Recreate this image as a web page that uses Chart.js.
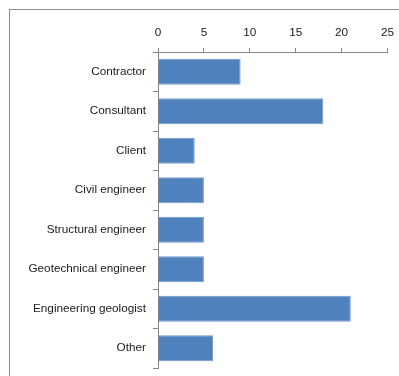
<!DOCTYPE html>
<html>
<head>
<meta charset="utf-8">
<script src="https://cdn.jsdelivr.net/npm/chart.js@4/dist/chart.umd.min.js"></script>
<style>
  html, body { margin: 0; padding: 0; background: #fff; }
  #wrap { position: relative; width: 399px; height: 376px; overflow: hidden; }
  #frame { position: absolute; left: 9px; top: 9px; width: 420px; height: 400px;
           border-top: 1px solid #8c8c8c; border-left: 1px solid #8c8c8c; box-sizing: border-box; }
  canvas { position: absolute; left: 0; top: 0; }
</style>
</head>
<body>
<div id="wrap">
  <div id="frame"></div>
  <canvas id="c" width="399" height="376"></canvas>
</div>
<script>
// Respondent roles and their counts
const categories = ["Contractor", "Consultant", "Client", "Civil engineer", "Structural engineer",
                    "Geotechnical engineer", "Engineering geologist", "Other"];
const counts = [9, 18, 4, 5, 5, 5, 21, 6];
const tickValues = [0, 5, 10, 15, 20, 25];

const axisGrey = "#868686";
const textColor = "#1a1a1a";
const font = { family: "'Liberation Sans', Arial, sans-serif", size: 11.75 };

new Chart(document.getElementById("c"), {
  type: "bar",
  data: {
    labels: categories,
    datasets: [{
      data: counts,
      backgroundColor: "#4f81bd",
      borderColor: "#7399c9",
      borderWidth: 1,
      categoryPercentage: 1,
      barPercentage: 0.66
    }]
  },
  options: {
    indexAxis: "y",
    responsive: false,
    animation: false,
    layout: { padding: { left: 0, right: 11.5, top: 0, bottom: 8 } },
    plugins: { legend: { display: false }, tooltip: { enabled: false } },
    scales: {
      x: {
        position: "top",
        min: 0, max: 25,
        afterBuildTicks: (s) => { s.ticks = tickValues.map(v => ({ value: v })); },
        afterFit: (s) => { s.height = 52; s.paddingLeft = 0; s.paddingRight = 0; },
        border: { display: true, color: axisGrey, width: 1 },
        grid: { drawOnChartArea: false, drawTicks: true, tickLength: 4, color: axisGrey },
        ticks: { color: textColor, font: font, padding: 8, maxRotation: 0 }
      },
      y: {
        afterFit: (s) => { s.width = 158; s.paddingTop = 0; s.paddingBottom = 0; },
        border: { display: true, color: axisGrey, width: 1 },
        grid: { drawOnChartArea: false, drawTicks: true, tickLength: 5, color: axisGrey, offset: true },
        ticks: { color: textColor, font: font, padding: 7, autoSkip: false }
      }
    }
  }
});
</script>
</body>
</html>
